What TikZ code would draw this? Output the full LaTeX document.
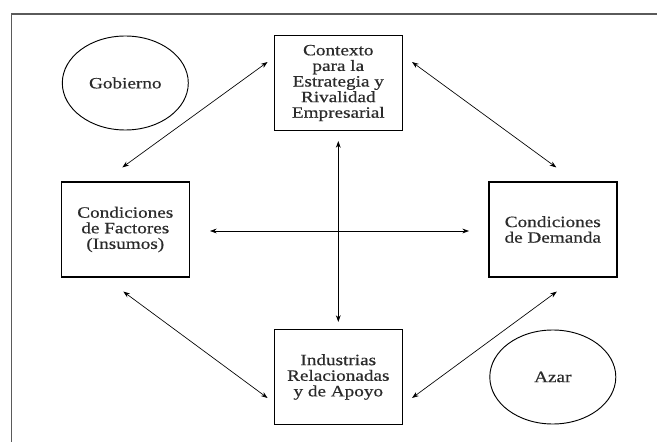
\documentclass[tikz,border=0pt]{standalone}
\usepackage{fontspec}
\setmainfont{Liberation Serif}[FakeStretch=1.22,FakeBold=0.6]
\usepackage{tikz}
\usetikzlibrary{arrows.meta,calc,shapes.geometric}
\definecolor{cInk}{HTML}{2B2B2B}
\definecolor{cFrame}{HTML}{5A5A5A}
\tikzset{
  fbox/.style={draw=black,line width=1.1pt,minimum width=96pt,minimum height=71pt,inner sep=0pt,align=center,text=cInk,font=\fontsize{11.8}{11.7}\selectfont},
  oval/.style={ellipse,draw=black,line width=0.7pt,minimum width=94.5pt,minimum height=70.5pt,inner sep=0pt,align=center,text=cInk,font=\fontsize{11.8}{11.7}\selectfont},
  darr/.style={{Stealth[length=5pt,width=3.6pt]}-{Stealth[length=5pt,width=3.6pt]},line width=0.5pt,color=black},
}

\begin{document}
\begin{tikzpicture}[x=0.75pt,y=-0.75pt]
  \useasboundingbox (0,0) rectangle (657,442);
  % frame
  \draw[cFrame,line width=1.4pt] (657,14) -- (11.5,14) -- (11.5,442);
  % four determinants
  \node[fbox] (ctx) at (338.3,83) {Contexto\\para la\\Estrategia y\\Rivalidad\\Empresarial};
  \node[fbox] (fac) at (125.3,229.5) {Condiciones\\de Factores\\(Insumos)};
  \node[fbox] (dem) at (552.8,229.5) {Condiciones\\de Demanda};
  \node[fbox] (ind) at (338.3,377) {Industrias\\Relacionadas\\y de Apoyo};
  % outside factors
  \node[oval] (gob) at (125.3,83) {Gobierno};
  \node[oval] (azar) at (552.8,377) {Azar};
  % links
  \draw[darr] ($(ctx.west)+(-6,-21)$) -- ($(fac.north)+(-3,-14)$);
  \draw[darr] ($(ctx.east)+(9,-21)$) -- ($(dem.north)+(3.5,-14)$);
  \draw[darr] ($(ctx.south)+(0,10)$) -- ($(ind.north)+(0,-7)$);
  \draw[darr] ($(fac.east)+(20,1.5)$) -- ($(dem.west)+(-19,1.5)$);
  \draw[darr] ($(fac.south)+(-2,14)$) -- ($(ind.west)+(-6,21)$);
  \draw[darr] ($(dem.south)+(4,14)$) -- ($(ind.east)+(9,21)$);
\end{tikzpicture}
\end{document}
